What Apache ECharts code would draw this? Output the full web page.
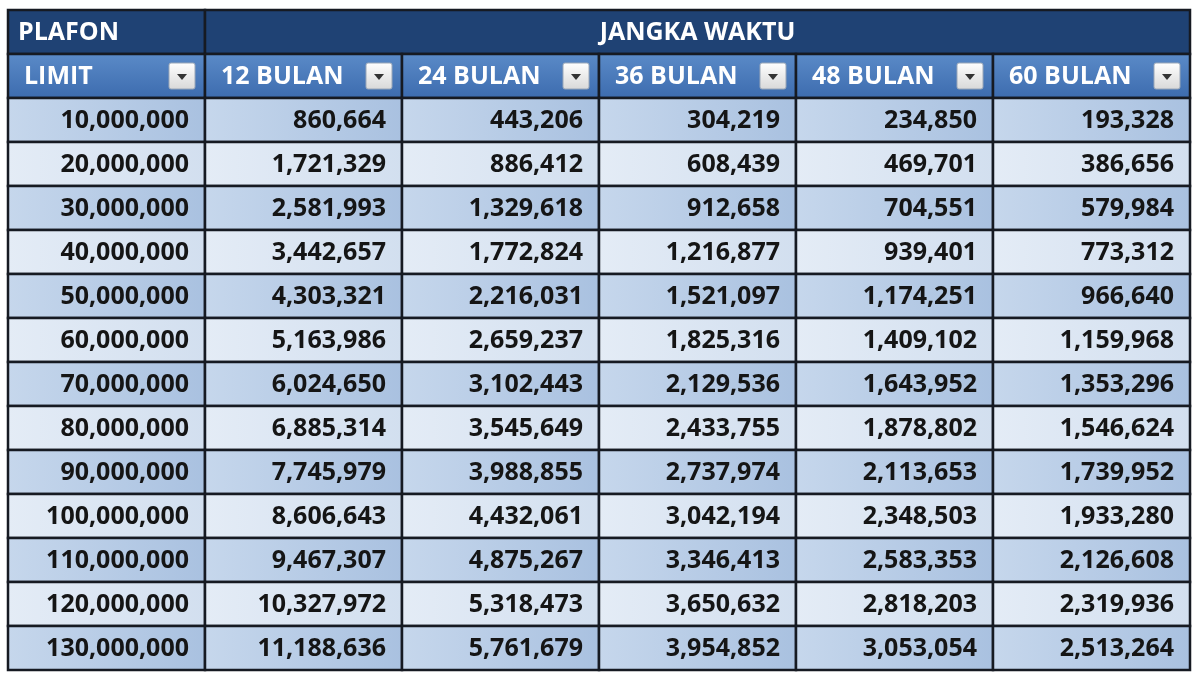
<!DOCTYPE html>
<html>
<head>
<meta charset="utf-8">
<script src="https://cdn.jsdelivr.net/npm/echarts@6/dist/echarts.min.js"></script>
<style>html,body{margin:0;padding:0;background:#fff}#chart{width:1200px;height:675px}</style>
</head>
<body>
<div id="chart"></div>
<script>
// data from the table
const columns = ['LIMIT', '12 BULAN', '24 BULAN', '36 BULAN', '48 BULAN', '60 BULAN'];
const limits = [10000000, 20000000, 30000000, 40000000, 50000000, 60000000, 70000000, 80000000, 90000000, 100000000, 110000000, 120000000, 130000000];
const bulan12 = [860664, 1721329, 2581993, 3442657, 4303321, 5163986, 6024650, 6885314, 7745979, 8606643, 9467307, 10327972, 11188636];
const bulan24 = [443206, 886412, 1329618, 1772824, 2216031, 2659237, 3102443, 3545649, 3988855, 4432061, 4875267, 5318473, 5761679];
const bulan36 = [304219, 608439, 912658, 1216877, 1521097, 1825316, 2129536, 2433755, 2737974, 3042194, 3346413, 3650632, 3954852];
const bulan48 = [234850, 469701, 704551, 939401, 1174251, 1409102, 1643952, 1878802, 2113653, 2348503, 2583353, 2818203, 3053054];
const bulan60 = [193328, 386656, 579984, 773312, 966640, 1159968, 1353296, 1546624, 1739952, 1933280, 2126608, 2319936, 2513264];

const rowCats = ['h1', 'h2'].concat(limits.map((v, i) => 'r' + i));
const fmt = v => v.toLocaleString('en-US');

const cells = [];
cells.push({value: [0, 0, 'PLAFON', 'top', 0]});
cells.push({value: [1, 0, 'JANGKA WAKTU', 'top', 4]});
columns.forEach((c, i) => cells.push({value: [i, 1, c, 'sub', 0]}));
const cols = [limits, bulan12, bulan24, bulan36, bulan48, bulan60];
limits.forEach((l, r) => {
    cols.forEach((arr, c) => {
        cells.push({value: [c, r + 2, fmt(arr[r]), r % 2 === 0 ? 'odd' : 'even', 0]});
    });
});

function renderItem(params, api) {
    const col = api.value(0), row = api.value(1);
    const text = api.value(2), kind = api.value(3), span = api.value(4);
    const size = api.size([1, 1]);
    const p0 = api.coord([col, row]);
    const p1 = api.coord([col + span, row]);
    const x = p0[0] - size[0] / 2, y = p0[1] - size[1] / 2;
    const w = p1[0] - p0[0] + size[0], h = size[1];
    let fill, color, align, tx;
    if (kind === 'top') {
        fill = '#1F4274'; color = '#fff';
        align = span ? 'center' : 'left';
        tx = span ? x + w / 2 : x + 10;
    } else if (kind === 'sub') {
        fill = new echarts.graphic.LinearGradient(0, 0, 0, 1, [{offset: 0, color: '#5B8BC8'}, {offset: 1, color: '#3C6BAE'}]);
        color = '#fff'; align = 'left'; tx = x + 16;
    } else {
        fill = kind === 'odd'
            ? new echarts.graphic.LinearGradient(0, 0, 1, 0, [{offset: 0, color: '#C6D7EC'}, {offset: 1, color: '#A9C1E0'}])
            : new echarts.graphic.LinearGradient(0, 0, 1, 0, [{offset: 0, color: '#E4ECF6'}, {offset: 1, color: '#D2DFEF'}]);
        color = '#151515'; align = 'right'; tx = x + w - 16;
    }
    const children = [
        {type: 'rect', shape: {x: x, y: y, width: w, height: h},
            style: {fill: fill, stroke: '#161A22', lineWidth: 2.5}},
        {type: 'text', style: {text: text, x: tx, y: y + h / 2 + 1, align: align, verticalAlign: 'middle',
            fill: color, font: 'bold 25px "Open Sans", Lato, sans-serif'}}
    ];
    if (kind === 'sub') {
        const bx = x + w - 36, by = y + h / 2 - 13;
        children.push({type: 'rect', shape: {x: bx, y: by, width: 26, height: 26, r: 2},
            style: {fill: new echarts.graphic.LinearGradient(0, 0, 0, 1, [{offset: 0, color: '#FFFFFF'}, {offset: 1, color: '#D8D8D8'}]), stroke: '#9AA7B8', lineWidth: 1}});
        children.push({type: 'polygon', shape: {points: [[bx + 8, by + 11], [bx + 18, by + 11], [bx + 13, by + 17]]},
            style: {fill: '#333'}});
    }
    return {type: 'group', children: children};
}

const chart = echarts.init(document.getElementById('chart'));
chart.setOption({
    animation: false,
    grid: {left: 8, right: 10, top: 10, bottom: 5},
    xAxis: {type: 'category', data: columns, show: false},
    yAxis: {type: 'category', data: rowCats, inverse: true, show: false},
    series: [{
        type: 'custom',
        renderItem: renderItem,
        encode: {x: 0, y: 1},
        data: cells
    }]
});
</script>
</body>
</html>
